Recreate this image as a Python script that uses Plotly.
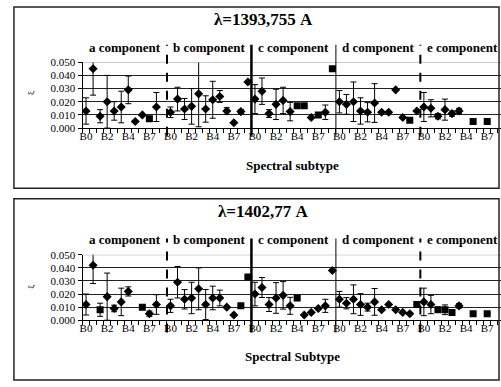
import plotly.graph_objects as go

# ---------------- data ----------------
components = ["a component", "b component", "c component", "d component", "e component"]
n_per_comp = 12
tick_labels = ["B0", "B2", "B4", "B7"]      # labelled every 3rd subtype
tick_slots = [0, 3, 6, 9]

titles = ["λ=1393,755 A", "λ=1402,77 A"]
x_titles = ["Spectral subtype", "Spectral Subtype"]

# panel 1 : λ=1393,755 A
xi_1393 = [0.013, 0.045, 0.009, 0.020, 0.013, 0.016, 0.029, 0.005, 0.010, 0.007, 0.016, None,
           0.012, 0.022, 0.0145, 0.0165, 0.026, 0.0145, 0.0215, 0.024, 0.013, 0.004, 0.0125, 0.035,
           0.022, 0.028, 0.011, 0.018, 0.021, 0.0125, 0.017, 0.017, 0.008, 0.010, 0.012, 0.045,
           0.020, 0.018, 0.020, 0.013, 0.012, 0.019, 0.012, 0.012, 0.029, 0.008, 0.006, 0.013,
           0.016, 0.015, 0.009, 0.014, 0.011, 0.013, None, 0.005, None, 0.005, None, None]
err_1393 = [0.010, 0.020, 0.005, 0.020, 0.007, 0.012, 0.0105, 0, 0, 0.002, 0.011, 0,
            0.004, 0.009, 0.008, 0.0135, 0.025, 0.010, 0.014, 0.0045, 0.0025, 0, 0.0015, 0,
            0.011, 0.010, 0.003, 0.0115, 0.010, 0.007, 0, 0, 0, 0, 0.0055, 0,
            0.0085, 0.0075, 0.015, 0.010, 0.0073, 0.0147, 0, 0, 0, 0, 0, 0,
            0.011, 0.0065, 0.002, 0.008, 0.002, 0.002, 0, 0, 0, 0, 0, 0]
square_1393 = [9, 30, 31, 33, 35, 46, 55, 57]

# panel 2 : λ=1402,77 A
xi_1402 = [0.012, 0.042, 0.008, 0.018, 0.009, 0.014, 0.022, None, 0.010, 0.005, 0.012, None,
           0.011, 0.029, 0.016, 0.017, 0.024, 0.012, 0.017, 0.017, 0.010, 0.004, 0.011, 0.033,
           0.020, 0.025, 0.012, 0.017, 0.019, 0.011, 0.017, 0.004, 0.006, 0.009, 0.011, 0.038,
           0.016, 0.013, 0.016, 0.012, 0.010, 0.014, 0.008, 0.012, 0.008, 0.006, 0.005, 0.012,
           0.014, 0.012, 0.008, 0.008, 0.006, 0.011, None, 0.005, None, 0.005, None, None]
err_1402 = [0.008, 0.014, 0.005, 0.018, 0.0025, 0.0105, 0.0035, 0, 0, 0.002, 0.0075, 0,
            0.005, 0.012, 0.0074, 0.012, 0.016, 0.0115, 0.009, 0.006, 0, 0, 0, 0,
            0.009, 0.0076, 0.0053, 0.0117, 0.0105, 0.0065, 0.002, 0, 0, 0, 0.005, 0,
            0.006, 0.0043, 0.011, 0.0083, 0.003, 0.0102, 0, 0, 0, 0, 0, 0,
            0.0105, 0.007, 0.002, 0.0037, 0.002, 0.0017, 0, 0, 0, 0, 0, 0]
square_1402 = [2, 8, 22, 23, 30, 47, 50, 51, 52, 55, 57]

y_ticks = [0.0, 0.01, 0.02, 0.03, 0.04, 0.05]

# ---------------- layout helpers ----------------
W, H = 501, 387
def fx(px):
    return px / W
def fy(py):
    return 1 - py / H

FONT = "Liberation Serif"
n_cat = n_per_comp * len(components)
x_idx = list(range(n_cat))

panels = [
    dict(vals=xi_1393, err=err_1393, sq=square_1393, top=58, bot=126, box=(1, 188),
         title_y=14, comp_y=43, xt_y=165, div=(40, 134), ytitle_y=90),
    dict(vals=xi_1402, err=err_1402, sq=square_1402, top=256.7, bot=324.3, box=(199, 386),
         title_y=212, comp_y=241, xt_y=362, div=(240, 337), ytitle_y=290),
]

fig = go.Figure()
shapes, annotations = [], []
tickvals = [c * n_per_comp + s for c in range(len(components)) for s in tick_slots]
ticktext = tick_labels * len(components)
div_styles = [dict(dash="dash", width=2), dict(dash="solid", width=2.5),
              dict(dash="solid", width=1), dict(dash="dash", width=2)]

for p, P in enumerate(panels):
    xa = "x" if p == 0 else "x2"
    ya = "y" if p == 0 else "y2"
    symbols = ["square" if i in P["sq"] else "diamond" for i in x_idx]
    errs = [e if e else None for e in P["err"]]
    fig.add_trace(go.Scatter(
        x=x_idx, y=P["vals"], mode="markers", xaxis=xa, yaxis=ya,
        marker=dict(symbol=symbols, size=7, color="black"),
        error_y=dict(type="data", array=errs, visible=True, color="black",
                     thickness=1, width=3),
        showlegend=False, hoverinfo="skip"))

    axname = "xaxis" if p == 0 else "xaxis2"
    ayname = "yaxis" if p == 0 else "yaxis2"
    fig.layout[axname] = dict(
        domain=[fx(80), 1.0], range=[-0.5, 58.96], anchor=ya,
        tickmode="array", tickvals=tickvals, ticktext=ticktext, ticks="",
        ticklabelstandoff=-2,
        tickfont=dict(family=FONT, size=11, color="black"),
        showgrid=False, zeroline=False, showline=True, linecolor="black", linewidth=1,
        minor=dict(tickmode="linear", tick0=-0.5, dtick=1, ticks="outside",
                   ticklen=4, tickcolor="black", tickwidth=1, showgrid=False),
        fixedrange=True)
    fig.layout[ayname] = dict(
        domain=[fy(P["bot"]), fy(P["top"])], range=[0, 0.05], anchor=xa,
        tickmode="array", tickvals=y_ticks, ticktext=[f"{v:.3f}" for v in y_ticks],
        ticks="outside", ticklen=4, tickcolor="black",
        tickfont=dict(family=FONT, size=11, color="black"),
        showgrid=True, gridcolor="#222", gridwidth=1, zeroline=False,
        showline=True, linecolor="black", linewidth=1, fixedrange=True)

    # top gridline is lighter
    shapes.append(dict(type="line", xref="paper", yref=ya, x0=fx(80), x1=1.0, y0=0.05, y1=0.05,
                       line=dict(color="#9a9a9a", width=1), layer="above"))
    # panel frame
    shapes.append(dict(type="rect", xref="paper", yref="paper", x0=fx(11), x1=fx(499),
                       y0=fy(P["box"][1]), y1=fy(P["box"][0]),
                       line=dict(color="#222", width=1.5), fillcolor="rgba(0,0,0,0)", layer="above"))
    # component dividers
    for k in range(1, len(components)):
        st = div_styles[k - 1]
        shapes.append(dict(type="line", xref=xa, yref="paper",
                           x0=k * n_per_comp - 0.5, x1=k * n_per_comp - 0.5,
                           y0=fy(P["div"][1]), y1=fy(P["div"][0]),
                           line=dict(color="black", width=st["width"], dash=st["dash"]),
                           layer="above"))
    # component labels
    for k, name in enumerate(components):
        annotations.append(dict(text=f"<b>{name}</b>", xref=xa, yref="paper",
                                x=k * n_per_comp + (n_per_comp - 1) / 2, y=fy(P["comp_y"]),
                                showarrow=False, xanchor="center", yanchor="middle",
                                font=dict(family=FONT, size=13, color="black")))
    # panel title
    annotations.append(dict(text=f"<b>{titles[p]}</b>", xref="paper", yref="paper",
                            x=fx(262), y=fy(P["title_y"]), showarrow=False,
                            xanchor="center", yanchor="middle",
                            font=dict(family=FONT, size=17, color="black")))
    # x title
    annotations.append(dict(text=f"<b>{x_titles[p]}</b>", xref="paper", yref="paper",
                            x=fx(291), y=fy(P["xt_y"]), showarrow=False,
                            xanchor="center", yanchor="middle",
                            font=dict(family=FONT, size=13, color="black")))
    # y title
    annotations.append(dict(text="ξ", xref="paper", yref="paper",
                            x=fx(28), y=fy(P["ytitle_y"]), showarrow=False, textangle=-90,
                            xanchor="center", yanchor="middle",
                            font=dict(family=FONT, size=9, color="black")))

fig.update_layout(
    width=W, height=H, margin=dict(l=0, r=0, t=0, b=0),
    paper_bgcolor="white", plot_bgcolor="white",
    shapes=shapes, annotations=annotations, showlegend=False)

fig.write_html("out.html", config={"displayModeBar": False},
               post_script="document.body.style.margin='0';document.body.style.padding='0';"
                           "document.documentElement.style.overflow='hidden';")
